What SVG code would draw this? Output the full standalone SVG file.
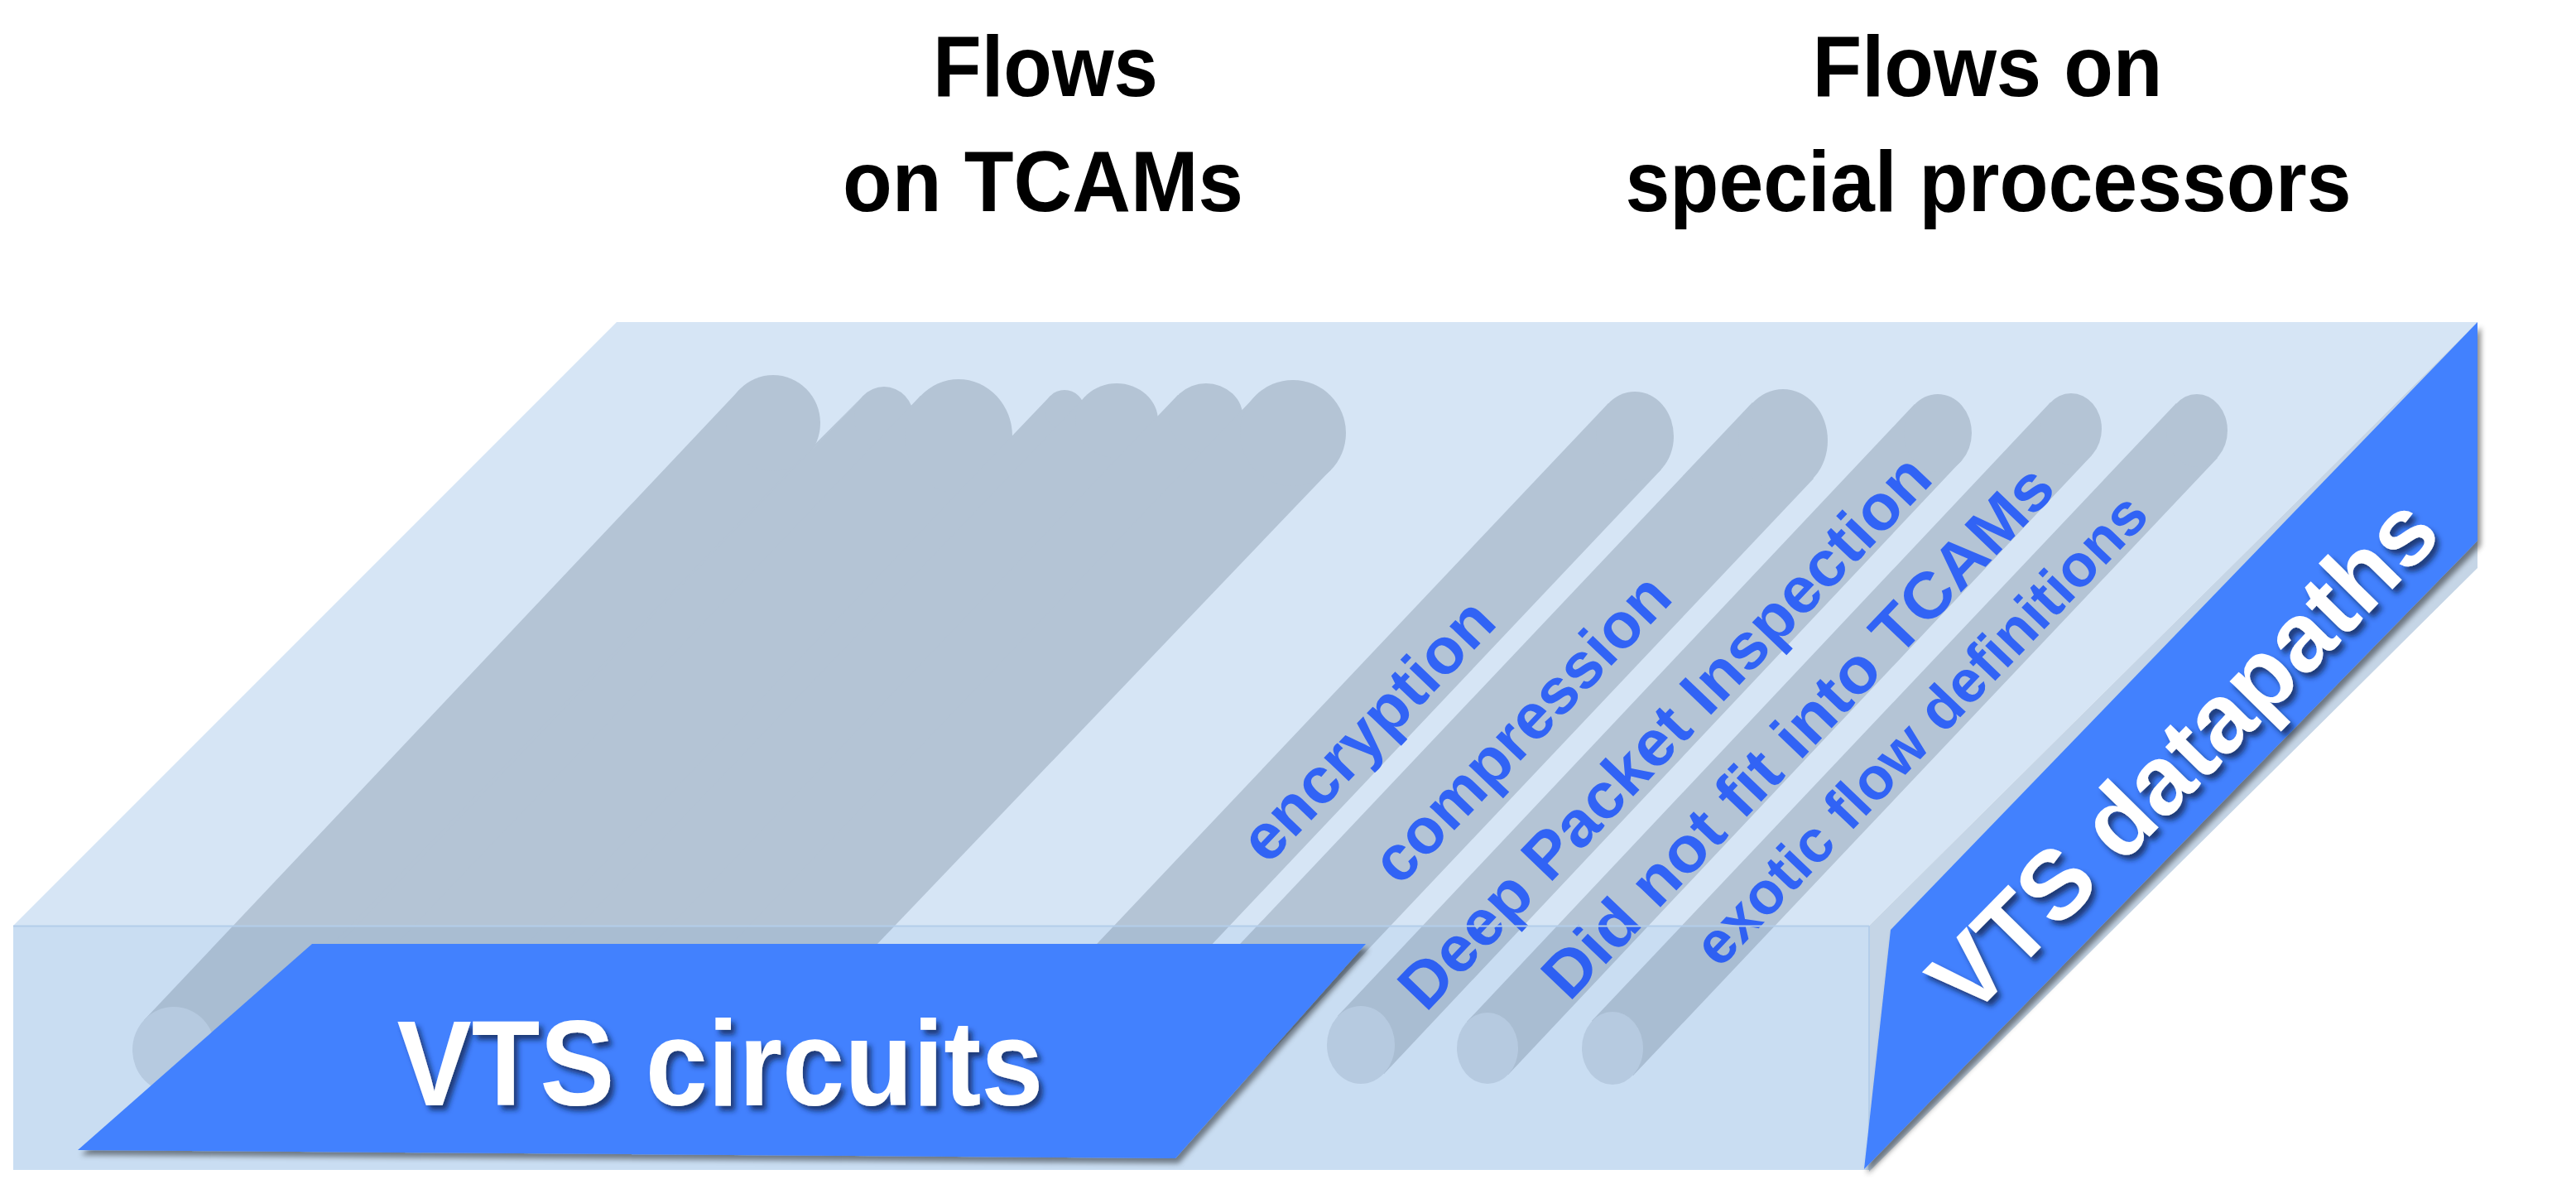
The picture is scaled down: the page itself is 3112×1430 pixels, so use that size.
<svg xmlns="http://www.w3.org/2000/svg" width="3112" height="1430" viewBox="0 0 3112 1430">
<style>
.cyl{fill:#b4c4d5}
.end{fill:#c2d2e3}
.pt{font-family:"Liberation Sans",Arial,sans-serif;font-weight:bold;fill:#3163f5}
.title{font-family:"Liberation Sans",Arial,sans-serif;font-weight:bold;fill:#000;font-size:103px}
.band{fill:#4281fe}
.wt{font-family:"Liberation Sans",Arial,sans-serif;font-weight:bold;fill:#fff}
</style>
<defs>
<filter id="bandShadow" x="-5%" y="-5%" width="115%" height="115%">
<feDropShadow dx="4" dy="6" stdDeviation="3" flood-color="#000" flood-opacity="0.45"/>
</filter>
<filter id="textShadow" x="-5%" y="-10%" width="115%" height="130%">
<feDropShadow dx="5" dy="6" stdDeviation="3" flood-color="#10204a" flood-opacity="0.75"/>
</filter>
</defs>
<rect width="3112" height="1430" fill="#fff"/>

<g id="slab">
<polygon id="slab-top" points="745,389 2993,389 2258,1118 16,1118" fill="#d6e5f5"/>
<rect id="slab-front-base" x="16" y="1118" width="2242" height="295" fill="#d6e5f5"/>
<polygon id="slab-side" points="2258,1118 2993,389 2993,686 2258,1415" fill="#c5d5e6"/>
</g>

<g id="tcam-flows">
<g id="tcam-1"><polygon class="cyl" points="893,471 975,551 246,1305 174,1232"/><ellipse class="cyl" cx="934" cy="511" rx="57" ry="58"/><ellipse class="end" cx="210" cy="1268" rx="50" ry="52"/></g>
<polygon class="cyl" points="970,551 1045,476 322,1235 243,1305"/>
<g id="tcam-2"><polygon class="cyl" points="1043,478 1093,532 369,1289 319,1235"/><ellipse class="cyl" cx="1068" cy="505" rx="36" ry="38"/></g>
<g id="tcam-3"><polygon class="cyl" points="1112,478 1204,576 480,1333 388,1235"/><ellipse class="cyl" cx="1158" cy="527" rx="65" ry="69"/></g>
<g id="tcam-4"><polygon class="cyl" points="1269,478 1303,512 579,1269 545,1236"/><ellipse class="cyl" cx="1286" cy="495" rx="24" ry="24"/></g>
<g id="tcam-5"><polygon class="cyl" points="1311,479 1387,537 663,1294 587,1236"/><ellipse class="cyl" cx="1349" cy="508" rx="50" ry="45"/></g>
<g id="tcam-6"><polygon class="cyl" points="1423,477 1491,533 767,1290 699,1234"/><ellipse class="cyl" cx="1457" cy="505" rx="45" ry="42"/></g>
<g id="tcam-7"><polygon class="cyl" points="1516,479 1608,567 884,1324 792,1236"/><ellipse class="cyl" cx="1562" cy="523" rx="64" ry="64"/></g>
</g>

<g id="processor-flows">
<g id="flow-encryption"><polygon class="cyl" points="1943,487 2007,567 1302,1312 1238,1232"/><ellipse class="cyl" cx="1975" cy="527" rx="47" ry="54"/><ellipse class="end" cx="1270" cy="1272" rx="47" ry="54"/>
<text class="pt" font-size="78" text-anchor="middle" textLength="404" lengthAdjust="spacingAndGlyphs" transform="translate(1671,900) rotate(-46.3)">encryption</text></g>
<g id="flow-compression"><polygon class="cyl" points="2117,486 2191,578 1486,1323 1412,1231"/><ellipse class="cyl" cx="2154" cy="532" rx="54" ry="62"/><ellipse class="end" cx="1449" cy="1277" rx="54" ry="62"/>
<text class="pt" font-size="78" text-anchor="middle" textLength="481" lengthAdjust="spacingAndGlyphs" transform="translate(1857,898) rotate(-46.3)">compression</text></g>
<g id="flow-dpi"><polygon class="cyl" points="2313,488 2369,557 1672,1297 1616,1227"/><ellipse class="cyl" cx="2341" cy="523" rx="41" ry="47"/><ellipse class="end" cx="1644" cy="1262" rx="41" ry="47"/>
<text class="pt" font-size="78" text-anchor="middle" textLength="890" lengthAdjust="spacingAndGlyphs" transform="translate(2030,902) rotate(-46.3)">Deep Packet Inspection</text></g>
<g id="flow-notfit"><polygon class="cyl" points="2477,486 2527,550 1822,1298 1772,1234"/><ellipse class="cyl" cx="2502" cy="518" rx="37" ry="43"/><ellipse class="end" cx="1797" cy="1266" rx="37" ry="43"/>
<text class="pt" font-size="78" text-anchor="middle" textLength="855" lengthAdjust="spacingAndGlyphs" transform="translate(2191,902) rotate(-46.3)">Did not fit into TCAMs</text></g>
<g id="flow-exotic"><polygon class="cyl" points="2629,487 2679,553 1973,1299 1923,1233"/><ellipse class="cyl" cx="2654" cy="520" rx="37" ry="44"/><ellipse class="end" cx="1948" cy="1266" rx="37" ry="44"/>
<text class="pt" font-size="72" text-anchor="middle" textLength="755" lengthAdjust="spacingAndGlyphs" transform="translate(2338,898) rotate(-46.3)">exotic flow definitions</text></g>
</g>

<g id="slab-front">
<rect x="16" y="1118" width="2242" height="295" fill="#f0f6fc" style="mix-blend-mode:multiply"/>
<line x1="16" y1="1118.5" x2="2258" y2="1118.5" stroke="#b3cdea" stroke-width="2"/>
<line x1="2258" y1="1118" x2="2258" y2="1413" stroke="#b3cdea" stroke-width="2"/>
</g>

<g id="connectors"/>

<g id="vts-circuits">
<polygon class="band" points="377,1140 1650,1140 1420,1399 94,1389" filter="url(#bandShadow)"/>
<g filter="url(#textShadow)"><text class="wt" x="870" y="1335" font-size="146" text-anchor="middle" textLength="781" lengthAdjust="spacingAndGlyphs">VTS circuits</text></g>
</g>

<g id="vts-datapaths">
<polygon class="band" points="2284,1123 2993,389 2993,653 2252,1412" filter="url(#bandShadow)"/>
<g filter="url(#textShadow)"><text class="wt" font-size="118" text-anchor="middle" textLength="818" lengthAdjust="spacingAndGlyphs" transform="translate(2666,940) rotate(-45.5)">VTS datapaths</text></g>
</g>

<g id="titles">
<text class="title" x="1263" y="116" text-anchor="middle" textLength="272" lengthAdjust="spacingAndGlyphs">Flows</text>
<text class="title" x="1260" y="255" text-anchor="middle" textLength="484" lengthAdjust="spacingAndGlyphs">on TCAMs</text>
<text class="title" x="2401" y="116" text-anchor="middle" textLength="423" lengthAdjust="spacingAndGlyphs">Flows on</text>
<text class="title" x="2402" y="255" text-anchor="middle" textLength="877" lengthAdjust="spacingAndGlyphs">special processors</text>
</g>
</svg>
